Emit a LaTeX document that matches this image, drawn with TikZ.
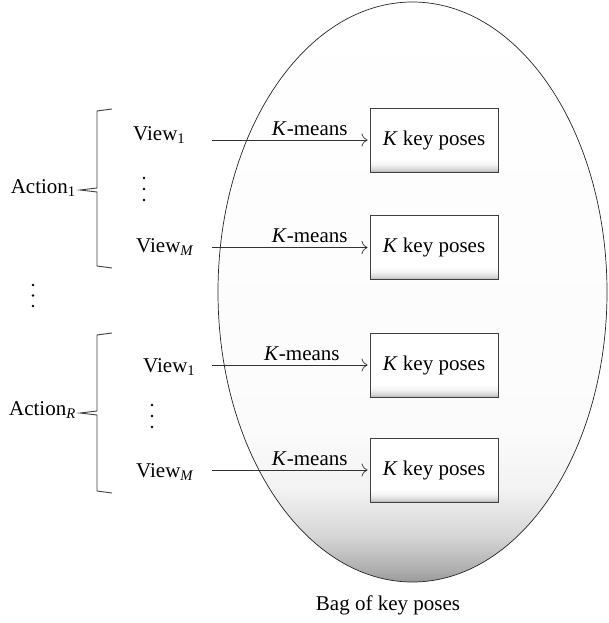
\documentclass[tikz,border=0pt]{standalone}
\usepackage{fontspec}
\setmainfont{Liberation Serif}
\usepackage{tikz}
\usetikzlibrary{shapes.geometric,arrows.meta}

\pgfdeclareverticalshading{bagshade}{100bp}{color(0bp)=(black!40); color(25bp)=(black!40);
  color(26bp)=(black!32); color(29bp)=(black!16); color(33bp)=(black!5);
  color(38bp)=(black!1.5); color(75bp)=(white); color(100bp)=(white)}
\pgfdeclareverticalshading{poseshade}{100bp}{color(0bp)=(black!30); color(25bp)=(black!30);
  color(27bp)=(black!16); color(31bp)=(black!4); color(35bp)=(white); color(100bp)=(white)}

\tikzset{
  every node/.style={font=\fontsize{21}{24}\selectfont, inner sep=1pt},
  bag/.style={ellipse, draw=black!85, line width=.7pt, shading=bagshade,
    minimum width=389pt, minimum height=580pt},
  poses/.style={draw=black!75, line width=.8pt, shading=poseshade,
    minimum width=128pt, minimum height=64pt},
  flow/.style={-{To[length=6pt,width=13pt]}, draw=black!80, line width=.7pt, shorten >=2pt},
  kmeans/.style={above=3pt, pos=.62},
  bracket/.style={draw=black!75, line width=.9pt, line join=miter},
  view/.style={anchor=base west},
  action/.style={anchor=base east}
}

\begin{document}
\begin{tikzpicture}[x=1pt,y=-1pt]
    \useasboundingbox (0,0) rectangle (608,623);
    %bag
    \node[bag] (bag) at (412.5,292) {};
    \node (caption) at (388,605) {Bag of key poses};
    %key poses
    \node[poses] (kp1) at (434,140) {\textit{K} key poses};
    \node[poses] (kp2) at (434,247.5) {\textit{K} key poses};
    \node[poses] (kp3) at (434,365) {\textit{K} key poses};
    \node[poses] (kp4) at (434,470) {\textit{K} key poses};
    %views
    \node[view] (v11) at (132,140) {View\textsubscript{1}};
    \node[view] (v1M) at (135,252) {View\textsubscript{\textit{M}}};
    \node[view] (vR1) at (142,372) {View\textsubscript{1}};
    \node[view] (vRM) at (135,477) {View\textsubscript{\textit{M}}};
    \coordinate (s11) at (212,140);
    \coordinate (s1M) at (212,247.5);
    \coordinate (sR1) at (212,365);
    \coordinate (sRM) at (212,470);
    %k-means
    \draw[flow] (s11) -- (kp1) node[kmeans] {\textit{K}-means};
    \draw[flow] (s1M) -- (kp2) node[kmeans] {\textit{K}-means};
    \draw[flow] (sR1) -- (kp3) node[kmeans, pos=.57] {\textit{K}-means};
    \draw[flow] (sRM) -- (kp4) node[kmeans] {\textit{K}-means};
    %actions
    \coordinate (tip1) at (80,190);
    \coordinate (tipR) at (80,413);
    \node[action] (act1) at (77,193) {Action\textsubscript{1}};
    \node[action] (actR) at (77,415) {Action\textsubscript{\textit{R}}};
    \draw[bracket] (112,109) -- (97,111) -- (97,188) -- (tip1) -- (97,192) -- (97,266) -- (112,268);
    \draw[bracket] (112,333) -- (97,335) -- (97,411) -- (tipR) -- (97,415) -- (97,491) -- (112,493);
    %dots
    \foreach \y in {178,189,200} \fill (144,\y) circle (1.3);
    \foreach \y in {405,416,427} \fill (152,\y) circle (1.3);
    \foreach \y in {285,295.5,306} \fill (33,\y) circle (1.3);
\end{tikzpicture}
\end{document}
